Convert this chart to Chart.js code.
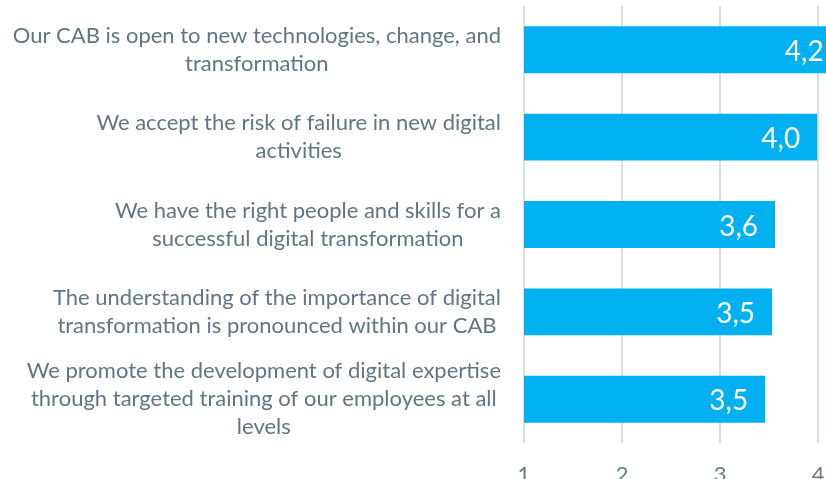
<!DOCTYPE html>
<html>
<head>
<meta charset="utf-8">
<script src="https://cdn.jsdelivr.net/npm/chart.js@4/dist/chart.umd.min.js"></script>
<style>
  html, body { margin: 0; padding: 0; background: #fff; overflow: hidden; }
  #wrap { width: 826px; height: 479px; position: relative; }
</style>
</head>
<body>
<div id="wrap"><canvas id="grafico"></canvas></div>
<script>
// categorias (com quebras de linha como no original)
const categorias = [
    ['Our CAB is open to new technologies, change, and', 'transformation'],
    ['We accept the risk of failure in new digital', 'activities'],
    ['We have the right people and skills for a', 'successful digital transformation'],
    ['The understanding of the importance of digital', 'transformation is pronounced within our CAB'],
    ['We promote the development of digital expertise', 'through targeted training of our employees at all', 'levels']
];
const valores = [4.23, 3.99, 3.56, 3.53, 3.46];
const ticksX = [1, 2, 3, 4];

const fonte = 'Lato, "Open Sans", sans-serif';

// desenha os rótulos das categorias (linhas centradas, bloco alinhado à direita)
const rotulosPlugin = {
    id: 'rotulos',
    afterDraw(chart) {
        const ctx = chart.ctx;
        const y = chart.scales.y;
        const direita = 501;
        const altLinha = 28;
        ctx.save();
        ctx.font = '22px ' + fonte;
        ctx.fillStyle = '#607585';
        ctx.textAlign = 'center';
        ctx.textBaseline = 'middle';
        categorias.forEach((linhas, i) => {
            const largura = Math.max(...linhas.map(l => ctx.measureText(l).width));
            const cx = direita - largura / 2;
            const cy = y.getPixelForValue(i);
            const y0 = cy - (linhas.length - 1) * altLinha / 2;
            linhas.forEach((l, j) => ctx.fillText(l, cx, y0 + j * altLinha));
        });
        // valores dentro das barras
        ctx.font = '28px ' + fonte;
        ctx.fillStyle = '#ffffff';
        ctx.textAlign = 'right';
        chart.getDatasetMeta(0).data.forEach((bar, i) => {
            const txt = valores[i].toFixed(1).replace('.', ',');
            ctx.fillText(txt, bar.x - 17, bar.y + 2);
        });
        ctx.restore();
    }
};

const ctx = document.getElementById('grafico').getContext('2d');
const chart = new Chart(ctx, {
    type: 'bar',
    data: {
        labels: categorias,
        datasets: [{
            data: valores,
            backgroundColor: '#00b0f0',
            barPercentage: 0.537,
            categoryPercentage: 1
        }]
    },
    options: {
        indexAxis: 'y',
        responsive: true,
        maintainAspectRatio: false,
        animation: false,
        layout: { padding: { top: 6, left: 0, right: 0, bottom: 0 } },
        plugins: { legend: { display: false }, tooltip: { enabled: false } },
        scales: {
            x: {
                min: 1,
                max: 4.08,
                afterBuildTicks: s => { s.ticks = ticksX.map(v => ({ value: v })); },
                afterFit: s => { s.height = 36; s.paddingRight = 0; s.paddingLeft = 0; },
                grid: { color: '#d8e0e6', lineWidth: 2, drawTicks: false },
                border: { display: false },
                ticks: {
                    color: '#6a7a86',
                    font: { family: fonte, size: 22 },
                    padding: 19
                }
            },
            y: {
                afterFit: s => { s.width = 524; },
                grid: { display: false },
                border: { display: false },
                ticks: { display: false }
            }
        }
    },
    plugins: [rotulosPlugin]
});
</script>
</body>
</html>
